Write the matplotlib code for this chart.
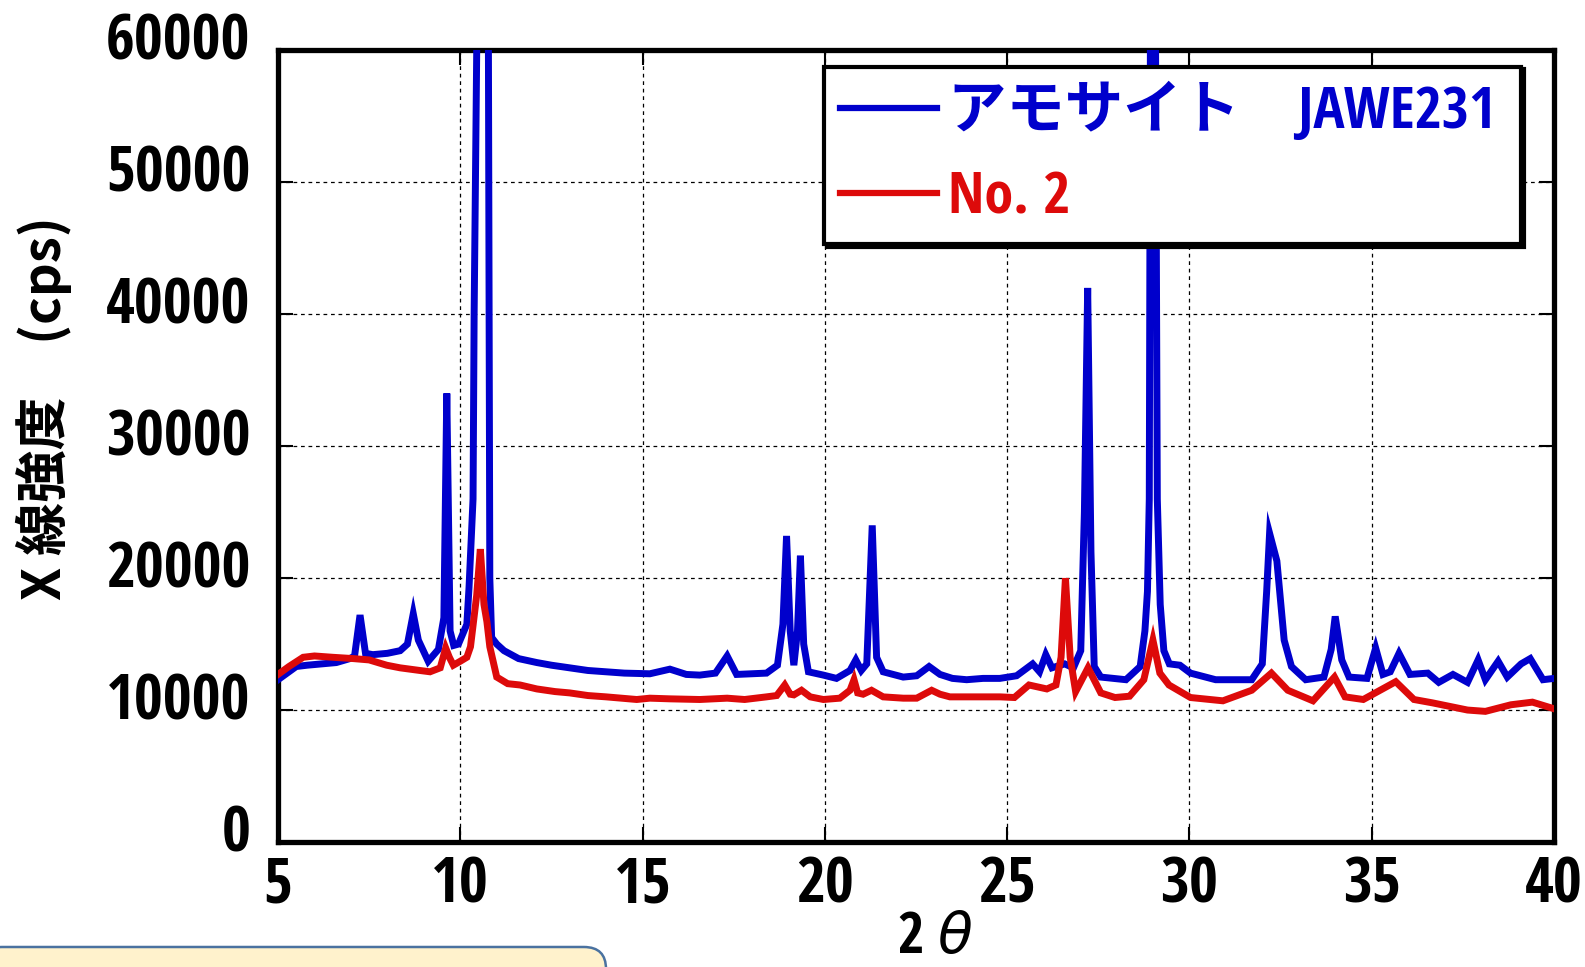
import matplotlib
matplotlib.use("Agg")
import matplotlib.pyplot as plt
from matplotlib.font_manager import FontProperties
from matplotlib.patches import FancyBboxPatch
from matplotlib.transforms import IdentityTransform, ScaledTranslation

# XRD traces (2theta, cps)
amosite_x = [5.0, 5.3, 5.5, 5.8, 6.2, 6.6, 6.97, 7.1, 7.25, 7.4, 7.6, 8.0, 8.35, 8.55,
             8.71, 8.85, 9.12, 9.4, 9.55, 9.63, 9.72, 9.82, 9.95, 10.18, 10.24, 10.35,
             10.38, 10.46, 10.6, 10.77, 10.79, 10.81, 10.86, 11.0, 11.2, 11.6, 12.1,
             12.5, 13.0, 13.5, 14.0, 14.5, 15.2, 15.75, 16.2, 16.57, 17.0, 17.32, 17.58,
             18.0, 18.4, 18.7, 18.85, 18.95, 19.05, 19.15, 19.25, 19.33, 19.42, 19.55,
             19.96, 20.32, 20.69, 20.85, 21.0, 21.15, 21.3, 21.42, 21.6, 22.15, 22.52,
             22.86, 23.16, 23.5, 23.89, 24.34, 24.8, 25.26, 25.7, 25.89, 26.06, 26.23,
             26.58, 26.82, 27.02, 27.12, 27.21, 27.3, 27.39, 27.57, 28.26, 28.65, 28.78,
             28.85, 28.9, 28.93, 29.0, 29.07, 29.12, 29.2, 29.3, 29.45, 29.74, 30.03,
             30.72, 31.71, 32.0, 32.12, 32.2, 32.4, 32.6, 32.8, 33.19, 33.69, 33.89,
             34.0, 34.18, 34.38, 34.87, 35.11, 35.31, 35.51, 35.75, 36.05, 36.54, 36.84,
             37.23, 37.63, 37.92, 38.12, 38.47, 38.72, 39.1, 39.35, 39.7, 40.0]
amosite_y = [12300, 12900, 13300, 13400, 13500, 13600, 13900, 14100, 17200, 14300, 14200,
             14300, 14500, 15000, 17300, 15300, 13700, 14600, 17000, 34000, 16000, 14900,
             15000, 16500, 19300, 26000, 40000, 62000, 120000, 62000, 40000, 20000, 15500,
             15000, 14500, 13900, 13600, 13400, 13200, 13000, 12900, 12800, 12750, 13100,
             12700, 12650, 12800, 14100, 12700, 12750, 12800, 13400, 16500, 23200, 16000,
             13400, 16000, 21700, 15000, 12900, 12650, 12400, 13000, 13800, 13000, 13500,
             24000, 14000, 12900, 12500, 12600, 13300, 12700, 12400, 12300, 12400, 12400,
             12600, 13500, 12900, 14200, 13200, 13500, 13200, 14500, 25000, 42000, 22000,
             13300, 12500, 12300, 13300, 16000, 19000, 26000, 62000, 100000, 62000, 26000,
             18000, 14500, 13500, 13400, 12800, 12300, 12300, 13500, 19000, 23400, 21300,
             15300, 13300, 12300, 12500, 14600, 17100, 13800, 12500, 12400, 14700, 12700,
             12900, 14300, 12700, 12800, 12100, 12700, 12100, 13800, 12300, 13700, 12500,
             13500, 13900, 12300, 12400]

sample_x = [5.0, 5.3, 5.69, 6.0, 6.5, 7.07, 7.5, 7.98, 8.35, 8.89, 9.17, 9.45, 9.6, 9.7,
            9.81, 10.0, 10.18, 10.28, 10.45, 10.55, 10.65, 10.73, 10.81, 11.0, 11.3,
            11.64, 12.1, 12.6, 13.0, 13.5, 14.0, 14.84, 15.2, 15.75, 16.57, 17.32, 17.8,
            18.4, 18.68, 18.9, 19.05, 19.15, 19.36, 19.6, 19.96, 20.41, 20.69, 20.8,
            20.9, 21.05, 21.28, 21.6, 22.15, 22.52, 22.93, 23.16, 23.43, 24.34, 24.8,
            25.2, 25.6, 26.09, 26.34, 26.48, 26.6, 26.73, 26.88, 27.22, 27.57, 27.96,
            28.36, 28.75, 29.0, 29.19, 29.44, 30.03, 30.92, 31.71, 32.25, 32.7, 33.39,
            33.98, 34.27, 34.77, 35.66, 36.16, 36.66, 37.63, 38.12, 38.82, 39.41, 40.0]
sample_y = [12700, 13300, 14000, 14100, 14000, 13900, 13800, 13400, 13200, 13000, 12900,
            13200, 14700, 14000, 13400, 13700, 14000, 14800, 18700, 22200, 18000, 16700,
            14800, 12500, 12000, 11900, 11600, 11400, 11300, 11100, 11000, 10800, 10900,
            10850, 10800, 10900, 10800, 11000, 11100, 11900, 11200, 11150, 11500, 11000,
            10800, 10900, 11500, 12300, 11300, 11200, 11500, 11000, 10900, 10900, 11500,
            11200, 11000, 11000, 11000, 10950, 11900, 11600, 11900, 14000, 20000, 14000,
            11400, 13200, 11300, 10950, 11050, 12300, 15300, 12800, 11900, 10950, 10700,
            11500, 12800, 11500, 10700, 12500, 11000, 10800, 12150, 10800, 10550, 10000,
            9900, 10400, 10600, 10100]

series_labels = ["アモサイト　JAWE231", "No. 2"]
series_colors = ["#0000cc", "#dd0a0a"]
x_ticks = [5, 10, 15, 20, 25, 30, 35, 40]
y_ticks = [0, 10000, 20000, 30000, 40000, 50000, 60000]

narrow = ["Open Sans Condensed", "Noto Sans CJK JP", "DejaVu Sans"]

fig = plt.figure(figsize=(15.85, 9.67), dpi=100)
ax = fig.add_axes([0.1754, 0.1293, 0.805, 0.8185])

ax.plot(amosite_x, amosite_y, color=series_colors[0], lw=5, label=series_labels[0],
        solid_joinstyle="miter", zorder=3)
ax.plot(sample_x, sample_y, color=series_colors[1], lw=5, label=series_labels[1],
        solid_joinstyle="miter", zorder=4)

ax.set_xlim(5, 40)
ax.set_ylim(0, 60000)
ax.set_xticks(x_ticks)
ax.set_yticks(y_ticks)
ax.grid(True, color="black", linestyle=(0, (3, 3)), linewidth=0.9)
ax.tick_params(direction="in", length=11, width=1.5, top=True, right=True,
               labelsize=45)
ax.tick_params(axis="y", pad=20)
ax.tick_params(axis="x", pad=9)
for lab in ax.get_xticklabels() + ax.get_yticklabels():
    lab.set_family(narrow)
    lab.set_weight("bold")
# y labels sit a little above their ticks in the original
lift = ScaledTranslation(0, 10.5 / 72, fig.dpi_scale_trans)
for tick in ax.yaxis.get_major_ticks():
    tick.label1.set_transform(tick.label1.get_transform() + lift)
for sp in ax.spines.values():
    sp.set_linewidth(3.8)

leg_font = FontProperties(family=narrow, weight="bold", size=42)
leg = ax.legend(loc="upper left", bbox_to_anchor=(0.428, 0.9795, 0.546, 0),
                mode="expand", borderaxespad=0, prop=leg_font, fancybox=False,
                shadow={"color": "black", "alpha": 1}, framealpha=1,
                edgecolor="black", handlelength=1.65, handletextpad=0.2,
                borderpad=0.28, labelspacing=0.47)
leg.get_frame().set_linewidth(3)
for txt, col in zip(leg.get_texts(), series_colors):
    txt.set_color(col)
for ln in leg.get_lines():
    ln.set_linewidth(4.5)

fig.text(0.028, 0.5776, "X 線強度　(cps)", rotation=90, ha="center", va="center",
         fontsize=38, weight="bold", family=["Noto Sans CJK JP", "DejaVu Sans"])
fig.text(0.59, 0.014, r"2 $\theta$", ha="center", va="baseline", fontsize=41,
         weight="bold", family=narrow)

note = FancyBboxPatch((-20, -30), 626, 50, boxstyle="round,pad=0,rounding_size=22",
                      facecolor="#fff2cc", edgecolor="#4a72a0", linewidth=1.8,
                      transform=IdentityTransform())
fig.add_artist(note)

fig.savefig("out.png", dpi=100)
